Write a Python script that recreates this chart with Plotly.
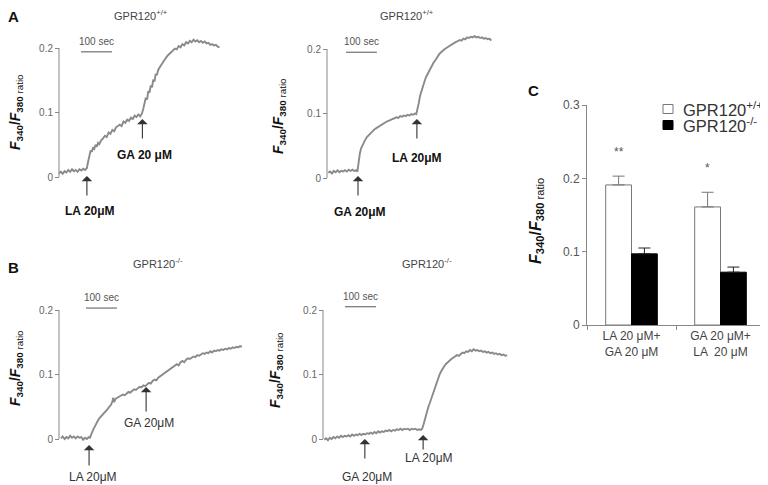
import plotly.graph_objects as go

# The page body has an 8 px margin, so the figure is drawn 8 px right/down of the window corner.
OFF = 8
W, H = 760, 477
PX_PER_SEC = 0.31      # horizontal scale of the traces (100 sec = 31 px)
PX_PER_UNIT = 645      # vertical scale of the traces (0.2 = 129 px)
FONT = "Arial, Liberation Sans, sans-serif"

# ---------------- data: calcium traces (time in s, F340/F380 ratio) ----------------
a1_time = [0, 6, 12, 18, 24, 30, 36, 42, 48, 54, 60, 66, 72, 78, 84, 90, 94, 98, 102, 106,
           110, 114, 118, 122, 126, 130, 136, 142, 148, 154, 160, 166, 172, 178, 184, 190,
           196, 202, 208, 214, 220, 226, 232, 238, 244, 250, 256, 262, 268, 272, 276, 280,
           284, 288, 292, 296, 300, 304, 308, 312, 316, 320, 326, 332, 338, 344, 350, 356,
           362, 368, 374, 380, 386, 392, 398, 404, 410, 416, 422, 428, 434, 440, 446, 452,
           458, 464, 470, 476, 482, 488, 494, 500, 506, 512, 518]
a1_ratio = [0.006, 0.008, 0.005, 0.009, 0.007, 0.011, 0.008, 0.012, 0.009, 0.011, 0.008, 0.012,
            0.010, 0.013, 0.011, 0.014, 0.024, 0.036, 0.041, 0.039, 0.046, 0.044, 0.050, 0.047,
            0.053, 0.051, 0.057, 0.060, 0.064, 0.062, 0.069, 0.067, 0.073, 0.071, 0.077, 0.079,
            0.081, 0.079, 0.086, 0.084, 0.089, 0.087, 0.092, 0.090, 0.095, 0.093, 0.097, 0.094,
            0.099, 0.106, 0.114, 0.123, 0.120, 0.133, 0.131, 0.142, 0.139, 0.151, 0.148, 0.160,
            0.158, 0.166, 0.171, 0.176, 0.181, 0.184, 0.188, 0.191, 0.194, 0.196, 0.199, 0.198,
            0.203, 0.201, 0.206, 0.204, 0.209, 0.207, 0.211, 0.209, 0.213, 0.210, 0.212, 0.209,
            0.211, 0.208, 0.210, 0.207, 0.208, 0.205, 0.206, 0.204, 0.205, 0.202, 0.201]

a2_time = [4, 10, 16, 22, 28, 34, 40, 46, 52, 58, 64, 70, 76, 82, 88, 94, 98, 100, 103, 106,
           110, 114, 118, 122, 128, 134, 140, 146, 152, 158, 164, 170, 176, 182, 188, 194,
           200, 206, 212, 218, 224, 230, 236, 242, 248, 254, 260, 266, 272, 278, 284, 288,
           292, 296, 300, 304, 308, 312, 316, 320, 326, 332, 338, 344, 350, 356, 362, 368,
           374, 380, 386, 392, 398, 404, 410, 416, 422, 428, 434, 440, 446, 452, 458, 464,
           470, 476, 482, 488, 494, 500, 506, 512, 518, 524, 530]
a2_ratio = [0.008, 0.010, 0.007, 0.011, 0.009, 0.012, 0.009, 0.011, 0.010, 0.012, 0.010, 0.013,
            0.011, 0.013, 0.011, 0.012, 0.010, 0.018, 0.032, 0.038, 0.046, 0.051, 0.055, 0.058,
            0.063, 0.066, 0.070, 0.072, 0.075, 0.077, 0.079, 0.081, 0.083, 0.085, 0.086, 0.088,
            0.089, 0.090, 0.091, 0.092, 0.094, 0.093, 0.096, 0.095, 0.097, 0.096, 0.098, 0.097,
            0.099, 0.098, 0.100, 0.099, 0.106, 0.116, 0.127, 0.134, 0.141, 0.146, 0.152, 0.157,
            0.163, 0.169, 0.174, 0.179, 0.183, 0.188, 0.192, 0.195, 0.198, 0.200, 0.202, 0.204,
            0.205, 0.208, 0.209, 0.211, 0.212, 0.214, 0.213, 0.216, 0.215, 0.218, 0.217, 0.219,
            0.218, 0.220, 0.218, 0.219, 0.217, 0.218, 0.216, 0.217, 0.215, 0.216, 0.213]

b1_time = [6, 12, 18, 24, 30, 36, 42, 48, 54, 60, 66, 72, 78, 84, 90, 96, 100, 104, 108, 112,
           116, 120, 126, 132, 138, 144, 150, 156, 162, 168, 172, 175, 178, 182, 188, 194,
           200, 206, 212, 218, 224, 230, 236, 242, 248, 254, 260, 266, 272, 278, 284, 290,
           296, 302, 308, 314, 320, 326, 332, 338, 344, 350, 356, 362, 368, 374, 380, 386,
           392, 398, 404, 410, 416, 422, 428, 434, 440, 446, 452, 458, 464, 470, 476, 482,
           488, 494, 500, 506, 512, 518, 524, 530, 536, 542, 548, 554, 560, 566, 572, 578,
           584, 590]
b1_ratio = [0.001, 0.004, 0.000, 0.003, 0.001, 0.005, 0.002, 0.004, 0.001, 0.004, 0.002, 0.003,
            -0.001, 0.002, 0.000, 0.003, 0.002, 0.008, 0.012, 0.016, 0.020, 0.024, 0.029, 0.033,
            0.036, 0.039, 0.043, 0.046, 0.050, 0.053, 0.058, 0.064, 0.057, 0.062, 0.064, 0.066,
            0.067, 0.069, 0.068, 0.071, 0.073, 0.072, 0.075, 0.077, 0.076, 0.079, 0.081, 0.080,
            0.083, 0.082, 0.085, 0.087, 0.086, 0.090, 0.092, 0.091, 0.095, 0.097, 0.099, 0.101,
            0.103, 0.105, 0.107, 0.109, 0.111, 0.114, 0.116, 0.114, 0.119, 0.121, 0.119, 0.123,
            0.125, 0.124, 0.126, 0.128, 0.127, 0.130, 0.129, 0.131, 0.133, 0.132, 0.134, 0.133,
            0.136, 0.134, 0.137, 0.136, 0.138, 0.137, 0.139, 0.138, 0.140, 0.139, 0.141, 0.140,
            0.142, 0.141, 0.143, 0.142, 0.144, 0.143]

b2_time = [4, 10, 16, 22, 28, 34, 40, 46, 52, 58, 64, 70, 76, 82, 88, 94, 100, 106, 112, 118,
           124, 130, 136, 142, 148, 154, 160, 166, 172, 178, 184, 190, 196, 202, 208, 214,
           220, 226, 232, 238, 244, 250, 256, 262, 268, 274, 280, 286, 292, 298, 304, 310,
           316, 320, 324, 328, 332, 336, 340, 344, 348, 352, 356, 360, 364, 368, 372, 376,
           380, 384, 390, 396, 402, 408, 414, 420, 426, 432, 438, 444, 450, 456, 462, 468,
           474, 480, 486, 492, 498, 504, 510, 516, 522, 528, 534, 540, 546, 552, 558, 564,
           570, 576, 582, 588, 594]
b2_ratio = [-0.001, 0.001, -0.002, 0.002, 0.000, 0.003, 0.001, 0.004, 0.002, 0.005, 0.003, 0.005,
            0.004, 0.006, 0.004, 0.007, 0.005, 0.007, 0.006, 0.008, 0.006, 0.008, 0.007, 0.009,
            0.008, 0.010, 0.008, 0.011, 0.009, 0.012, 0.010, 0.012, 0.011, 0.013, 0.012, 0.014,
            0.012, 0.014, 0.013, 0.015, 0.014, 0.016, 0.014, 0.016, 0.015, 0.016, 0.014, 0.016,
            0.015, 0.016, 0.014, 0.015, 0.014, 0.016, 0.022, 0.030, 0.038, 0.043, 0.050, 0.055,
            0.061, 0.066, 0.073, 0.078, 0.085, 0.090, 0.095, 0.100, 0.104, 0.108, 0.112, 0.116,
            0.119, 0.122, 0.124, 0.126, 0.128, 0.130, 0.129, 0.132, 0.134, 0.133, 0.136, 0.135,
            0.138, 0.136, 0.139, 0.137, 0.138, 0.136, 0.137, 0.135, 0.136, 0.134, 0.135, 0.133,
            0.134, 0.132, 0.133, 0.131, 0.132, 0.130, 0.131, 0.129, 0.130]

# stimulus arrows: label, time (s), ratio at arrow tip
a1_events = ["LA 20μM", "GA 20 μM"]; a1_event_time = [90, 269]; a1_event_ratio = [0.0016, 0.090]
a2_events = ["GA 20μM", "LA 20μM"]; a2_event_time = [100, 290]; a2_event_ratio = [0.003, 0.0915]
b1_events = ["LA 20μM", "GA 20μM"]; b1_event_time = [97, 281]; b1_event_ratio = [-0.0093, 0.0806]
b2_events = ["GA 20μM", "LA 20μM"]; b2_event_time = [135, 323]; b2_event_ratio = [0.0, 0.0062]

# scale bars: start time (s), ratio level
scalebar_len = 100
a1_scalebar = (71, 0.194); a2_scalebar = (61, 0.195); b1_scalebar = (87, 0.203); b2_scalebar = (71, 0.205)

panel_titles = ["GPR120<sup>+/+</sup>", "GPR120<sup>+/+</sup>", "GPR120<sup>-/-</sup>", "GPR120<sup>-/-</sup>"]
trace_ticks = [0, 0.1, 0.2]
trace_ticktext = ["0", "0.1", "0.2"]

# ---------------- data: panel C bar chart ----------------
c_categories = ["LA 20 μM+<br>GA 20 μM", "GA 20 μM+<br>LA  20 μM"]
wt_mean = [0.191, 0.161]
wt_sem = [0.012, 0.020]
ko_mean = [0.097, 0.072]
ko_sem = [0.008, 0.007]
significance = ["**", "*"]
c_ticks = [0, 0.1, 0.2, 0.3]
c_ticktext = ["0", "0.1", "0.2", "0.3"]

# ---------------- layout helpers (window pixels -> paper fractions) ----------------
def px_x(p):
    return (p - OFF) / W

def px_y(p):
    return 1 - (p - OFF) / H

YLO, YHI = -0.025, 0.23

panels = [
    dict(t=a1_time, v=a1_ratio, ev=a1_events, evt=a1_event_time, evv=a1_event_ratio, sb=a1_scalebar,
         axis_px=59, zero_px=177, end_px=235, bold=True,
         arrow_len=[21, 21], lab_dy=[35, 36], lab_dx=[3, 2],
         title_xy=(141, 15), ytitle_xy=(16, 112)),
    dict(t=a2_time, v=a2_ratio, ev=a2_events, evt=a2_event_time, evv=a2_event_ratio, sb=a2_scalebar,
         axis_px=327, zero_px=178, end_px=505, bold=True,
         arrow_len=[21, 21], lab_dy=[36, 39], lab_dx=[2, 0],
         title_xy=(407, 15), ytitle_xy=(279, 116)),
    dict(t=b1_time, v=b1_ratio, ev=b1_events, evt=b1_event_time, evv=b1_event_ratio, sb=b1_scalebar,
         axis_px=59, zero_px=439, end_px=255, bold=False,
         arrow_len=[22, 26], lab_dy=[32, 36], lab_dx=[4, 3],
         title_xy=(158, 263), ytitle_xy=(16, 368)),
    dict(t=b2_time, v=b2_ratio, ev=b2_events, evt=b2_event_time, evv=b2_event_ratio,
         sb=b2_scalebar, axis_px=323, zero_px=439, end_px=515, bold=False,
         arrow_len=[21, 16], lab_dy=[38, 23], lab_dx=[2, 6],
         title_xy=(427, 263), ytitle_xy=(276, 370)),
]

fig = go.Figure()
annotations = []
shapes = []
layout = dict(width=W, height=H, autosize=False,
              margin=dict(l=0, r=0, t=0, b=0, pad=0, autoexpand=False),
              paper_bgcolor="white", plot_bgcolor="rgba(0,0,0,0)",
              showlegend=False, font=dict(family=FONT, color="#333"))

ytitle_text = "<b><i>F</i><sub>340</sub>/<i>F</i><sub>380</sub></b><sub> ratio</sub>"


def paper_text(x, y, text, size, color, **kw):
    d = dict(x=px_x(x), y=px_y(y), xref="paper", yref="paper", text=text, showarrow=False,
             xanchor="center", yanchor="middle", font=dict(size=size, color=color, family=FONT))
    d.update(kw)
    return d


for i, p in enumerate(panels, start=1):
    xa, ya = f"x{i}", f"y{i}"
    xname, yname = f"xaxis{i}", f"yaxis{i}"
    left_px = p["axis_px"] - 4 * PX_PER_SEC
    layout[xname] = dict(domain=[px_x(left_px), px_x(p["end_px"])],
                         range=[-4, (p["end_px"] - p["axis_px"]) / PX_PER_SEC],
                         visible=False, anchor=ya, automargin=False)
    layout[yname] = dict(domain=[px_y(p["zero_px"] - YLO * PX_PER_UNIT), px_y(p["zero_px"] - YHI * PX_PER_UNIT)],
                         range=[YLO, YHI], anchor="free", position=px_x(p["axis_px"]),
                         automargin=False,
                         showline=False, showgrid=False, zeroline=False,
                         ticks="outside", ticklen=4, tickwidth=1, tickcolor="#888",
                         tickvals=trace_ticks, ticktext=trace_ticktext,
                         tickfont=dict(size=10, color="#666", family=FONT))
    fig.add_trace(go.Scatter(x=p["t"], y=p["v"], mode="lines", xaxis=xa, yaxis=ya,
                             line=dict(color="#8a8a8a", width=1.9), hoverinfo="skip"))
    # y axis line from 0 to 0.2
    shapes.append(dict(type="line", xref=xa, yref=ya, x0=0, x1=0, y0=trace_ticks[0], y1=trace_ticks[-1],
                       line=dict(color="#888", width=1)))
    # scale bar
    sbt, sbv = p["sb"]
    shapes.append(dict(type="line", xref=xa, yref=ya, x0=sbt, x1=sbt + scalebar_len, y0=sbv, y1=sbv,
                       line=dict(color="#555", width=1)))
    annotations.append(dict(x=sbt + scalebar_len / 2, y=sbv, xref=xa, yref=ya, text="100 sec",
                            showarrow=False, yshift=10.5, xanchor="center", yanchor="middle",
                            font=dict(size=10, color="#555", family=FONT)))
    # stimulus arrows and labels
    for k in range(len(p["ev"])):
        annotations.append(dict(x=p["evt"][k], y=p["evv"][k], xref=xa, yref=ya, text="",
                                showarrow=True, ax=0, ay=p["arrow_len"][k], arrowhead=1,
                                arrowsize=1.6, arrowwidth=1.1, arrowcolor="#333", standoff=0))
        lab = p["ev"][k]
        annotations.append(dict(x=p["evt"][k], y=p["evv"][k], xref=xa, yref=ya,
                                text=f"<b>{lab}</b>" if p["bold"] else lab,
                                showarrow=False, yshift=-p["lab_dy"][k], xshift=p["lab_dx"][k],
                                xanchor="center", yanchor="middle",
                                font=dict(size=12, color="#111" if p["bold"] else "#333", family=FONT)))
    tx, ty = p["title_xy"]
    annotations.append(paper_text(tx, ty, panel_titles[i - 1], 11, "#444"))
    yx, yy = p["ytitle_xy"]
    annotations.append(paper_text(yx, yy, ytitle_text, 14, "#111", textangle=-90))

# ---------------- panel C ----------------
layout["xaxis5"] = dict(domain=[px_x(587), px_x(765)], anchor="y5", type="category",
                        range=[-0.5, 1.5], showline=True, linecolor="#888", linewidth=1,
                        automargin=False,
                        ticks="outside", tickson="boundaries", ticklen=4, tickcolor="#888",
                        showgrid=False, tickfont=dict(size=12, color="#444", family=FONT))
layout["yaxis5"] = dict(domain=[px_y(325), px_y(105)], anchor="x5", range=[0, 0.3],
                        automargin=False,
                        showline=True, linecolor="#888", linewidth=1, showgrid=False, zeroline=False,
                        ticks="outside", ticklen=4, tickcolor="#888",
                        tickvals=c_ticks, ticktext=c_ticktext,
                        tickfont=dict(size=12, color="#555", family=FONT))
layout["barmode"] = "group"
layout["bargap"] = 0.42
layout["bargroupgap"] = 0

fig.add_trace(go.Bar(x=c_categories, y=wt_mean, xaxis="x5", yaxis="y5", name="GPR120+/+",
                     marker=dict(color="white", line=dict(color="#777", width=1)),
                     error_y=dict(type="data", array=wt_sem, arrayminus=[0] * len(wt_sem), symmetric=False,
                                  color="#777", thickness=1, width=6)))
fig.add_trace(go.Bar(x=c_categories, y=ko_mean, xaxis="x5", yaxis="y5", name="GPR120-/-",
                     marker=dict(color="black", line=dict(color="black", width=1)),
                     error_y=dict(type="data", array=ko_sem, arrayminus=[0] * len(ko_sem), symmetric=False,
                                  color="#222", thickness=1, width=6)))

for k, s in enumerate(significance):
    annotations.append(dict(x=c_categories[k], y=wt_mean[k] + wt_sem[k], xref="x5", yref="y5", text=s,
                            showarrow=False, xshift=-13, yshift=24, xanchor="center", yanchor="middle",
                            font=dict(size=12, color="#555", family=FONT)))

# legend of panel C
legend_entries = [("GPR120<sup>+/+</sup>", "white", "#777", 109), ("GPR120<sup>-/-</sup>", "black", "black", 125)]
for text, fill, edge, cy in legend_entries:
    shapes.append(dict(type="rect", xref="paper", yref="paper", x0=px_x(663), x1=px_x(673),
                       y0=px_y(cy + 4.5), y1=px_y(cy - 4.5), fillcolor=fill, line=dict(color=edge, width=1)))
    annotations.append(paper_text(681, cy, text, 16.5, "#333", xanchor="left"))

annotations.append(paper_text(536, 221, ytitle_text, 16, "#111", textangle=-90))

# panel letters
for letter, lx, ly in [("A", 13, 17), ("B", 13, 267), ("C", 533, 90)]:
    annotations.append(paper_text(lx, ly, f"<b>{letter}</b>", 15, "#111"))

layout["annotations"] = annotations
layout["shapes"] = shapes
fig.update_layout(**layout)
fig.write_html("out.html")
